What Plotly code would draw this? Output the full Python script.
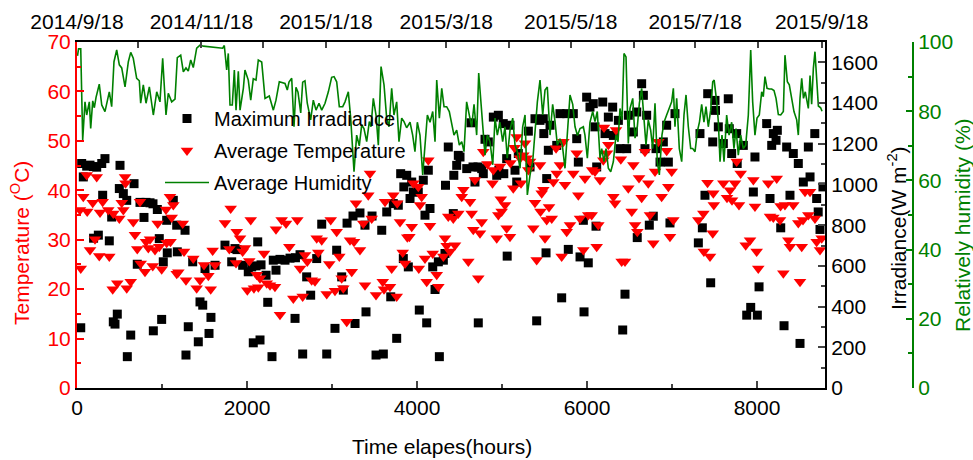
import plotly.graph_objects as go

# ---------------- data ----------------
# Maximum irradiance (W m^-2) vs elapsed hours
IRR_HOURS = [44, 55, 74, 114, 153, 192, 195, 232, 251, 291, 302, 329, 380, 408, 427, 447, 474, 498, 506, 545,
             585, 592, 632, 671, 709, 741, 788, 812, 859, 894, 898, 945, 968, 996, 1015, 1055, 1062, 1133, 1173, 1180,
             1271, 1282, 1309, 1361, 1427, 1447, 1479, 1506, 1553, 1576, 1624, 1741, 1820, 1859, 1882, 1949, 2015, 2055, 2074, 2106,
             2126, 2153, 2165, 2224, 2244, 2294, 2309, 2341, 2388, 2447, 2506, 2565, 2570, 2624, 2655, 2702, 2749, 2820, 2879, 2938,
             3035, 3055, 3114, 3133, 3177, 3247, 3271, 3329, 3388, 3400, 3471, 3518, 3585, 3604, 3644, 3691, 3721, 3761, 3780, 3808,
             3839, 3845, 3879, 3898, 3918, 3938, 3957, 4015, 4027, 4074, 4094, 4114, 4133, 4153, 4185, 4212, 4251, 4263, 4310, 4329,
             4335, 4368, 4427, 4433, 4467, 4486, 4506, 4585, 4635, 4659, 4682, 4718, 4721, 4761, 4780, 4800, 4839, 4898, 4938, 4957,
             4963, 5015, 5021, 5055, 5061, 5094, 5153, 5173, 5192, 5310, 5330, 5388, 5408, 5447, 5486, 5492, 5518, 5526, 5545, 5565,
             5644, 5682, 5702, 5761, 5780, 5839, 5879, 5898, 5918, 5957, 5965, 5996, 6015, 6035, 6074, 6094, 6106, 6114, 6185, 6212,
             6251, 6302, 6310, 6369, 6388, 6420, 6447, 6467, 6486, 6545, 6585, 6591, 6643, 6663, 6682, 6702, 6733, 6780, 6812, 6859,
             6898, 6937, 6957, 6976, 7035, 7310, 7329, 7357, 7388, 7420, 7455, 7479, 7506, 7512, 7545, 7604, 7662, 7674, 7702, 7761,
             7767, 7839, 7879, 7926, 7957, 7976, 8004, 8024, 8114, 8153, 8173, 8192, 8224, 8239, 8279, 8318, 8349, 8388, 8427, 8486,
             8506, 8545, 8604, 8624, 8680, 8702, 8720, 8741, 8776]
IRR_VALUES = [296, 1103, 1037, 1090, 1095, 1088, 736, 1085, 751, 1103, 947, 1127, 723, 840, 325, 314, 363, 980, 1094, 955,
              922, 154, 260, 1004, 608, 912, 838, 912, 910, 905, 281, 877, 734, 337, 620, 824, 664, 922, 800, 669,
              775, 162, 301, 620, 227, 423, 407, 587, 268, 347, 603, 702, 620, 685, 680, 603, 571, 595, 222, 600,
              718, 236, 605, 554, 421, 154, 628, 579, 632, 628, 638, 342, 640, 655, 167, 546, 456, 636, 805, 167,
              293, 677, 546, 481, 810, 845, 317, 860, 800, 374, 845, 162, 775, 167, 865, 448, 906, 244, 898, 1053,
              636, 988, 1045, 595, 931, 1012, 963, 963, 383, 1021, 849, 320, 1070, 882, 595, 484, 620, 154, 628, 661,
              996, 1184, 857, 1045, 1094, 1143, 1135, 1078, 1303, 1086, 1012, 1086, 320, 1078, 1053, 1222, 1209, 1331, 1045, 1340,
              1070, 1299, 1053, 1127, 648, 1291, 1070, 1012, 1152, 1262, 1086, 1323, 330, 1315, 1323, 1250, 664, 1029, 1168, 1291,
              1192, 1348, 443, 1348, 681, 1348, 1225, 1110, 644, 824, 374, 1429, 615, 1380, 1397, 1283, 795, 1086, 1405, 1250,
              1331, 1380, 1241, 1315, 1176, 285, 461, 1176, 1340, 1258, 1356, 739, 1495, 1438, 1176, 1340, 800, 844, 1176, 1110,
              1209, 1291, 1110, 811, 1348, 713, 1250, 787, 947, 1446, 517, 1209, 1413, 1364, 1283, 1201, 1421, 1274, 1152, 1250,
              1103, 1192, 358, 396, 963, 1135, 358, 497, 1299, 931, 1192, 1250, 1217, 1266, 787, 306, 1184, 947, 1152, 1103,
              219, 1012, 1184, 1037, 1250, 931, 865, 779, 988]

# Average temperature (deg C) vs elapsed hours
TEMP_HOURS = [35, 44, 74, 114, 120, 153, 185, 212, 232, 262, 271, 302, 368, 380, 420, 427, 474, 498, 526, 545,
              565, 571, 585, 632, 662, 682, 709, 741, 749, 800, 812, 839, 859, 891, 918, 949, 968, 996, 1047, 1055,
              1094, 1100, 1114, 1133, 1173, 1192, 1244, 1259, 1282, 1368, 1408, 1447, 1494, 1545, 1573, 1596, 1624, 1741, 1792, 1808,
              1871, 1879, 1918, 1949, 1976, 2004, 2027, 2044, 2082, 2114, 2133, 2153, 2200, 2232, 2271, 2329, 2341, 2388, 2408, 2459,
              2498, 2545, 2592, 2624, 2655, 2682, 2709, 2761, 2800, 2820, 2839, 2879, 2938, 2968, 2985, 3035, 3055, 3086, 3114, 3133,
              3173, 3212, 3232, 3259, 3282, 3329, 3368, 3388, 3427, 3447, 3467, 3518, 3597, 3612, 3624, 3682, 3702, 3721, 3761, 3767,
              3800, 3832, 3859, 3886, 3910, 3938, 3957, 4015, 4021, 4035, 4055, 4094, 4114, 4133, 4153, 4185, 4232, 4251, 4310, 4329,
              4349, 4368, 4388, 4427, 4447, 4486, 4526, 4545, 4604, 4624, 4643, 4662, 4682, 4721, 4741, 4761, 4780, 4829, 4888, 4898,
              4938, 4957, 4976, 4986, 4996, 5035, 5055, 5094, 5100, 5133, 5147, 5173, 5212, 5224, 5251, 5271, 5290, 5310, 5330, 5368,
              5388, 5408, 5447, 5453, 5467, 5486, 5506, 5526, 5553, 5585, 5604, 5636, 5644, 5682, 5702, 5722, 5741, 5761, 5800, 5839,
              5879, 5898, 5918, 5957, 5976, 6015, 6055, 6061, 6094, 6114, 6133, 6153, 6192, 6200, 6235, 6251, 6310, 6329, 6341, 6398,
              6408, 6447, 6486, 6526, 6545, 6565, 6592, 6612, 6643, 6682, 6721, 6741, 6780, 6800, 6839, 6878, 6937, 6957, 6976, 6996,
              7016, 7310, 7369, 7375, 7418, 7447, 7479, 7486, 7492, 7604, 7647, 7682, 7706, 7741, 7761, 7788, 7808, 7867, 7918, 7957,
              7976, 7996, 8015, 8133, 8153, 8192, 8232, 8271, 8277, 8310, 8329, 8369, 8388, 8427, 8486, 8506, 8526, 8541, 8565, 8604,
              8624, 8682, 8702, 8741, 8761]
TEMP_VALUES = [36, 24.2, 38.7, 43.1, 35.7, 27.9, 37.5, 30.1, 42.7, 26.7, 35.5, 37.7, 36, 26.6, 20, 35.3, 21.2, 34.3, 37.5, 36,
               42.7, 41.4, 20.2, 21.5, 33.6, 31, 28.1, 37.7, 25.2, 23.5, 29.6, 28.3, 30.1, 24.7, 27.9, 33.3, 28.6, 24, 36.1, 29.4,
               38.7, 29.6, 34.5, 37, 23.1, 23.4, 33.3, 27.6, 21.8, 26.2, 20.2, 21.8, 24.9, 22.7, 20, 27.8, 24.9, 33.4, 28.1, 36.3,
               25.3, 31.6, 30.3, 27.6, 28.3, 19.8, 25.7, 34, 20.2, 22.9, 20.4, 22.2, 27.2, 21.2, 20.8, 20.5, 32.1, 14.8, 34, 33.3,
               28.6, 18.1, 34, 24.2, 18.5, 26.9, 25.6, 21.8, 21.6, 30.3, 27.4, 29.9, 19, 25.1, 34, 19.7, 31.6, 26.6, 22.2, 20.2,
               13.4, 29.9, 23.5, 29.6, 37.4, 27.9, 33.3, 20.8, 39, 43.4, 34.3, 18.8, 21.5, 20, 37.7, 20.5, 24.2, 39, 18.5, 37.4,
               33.6, 27.4, 25.2, 30.5, 30.6, 32.6, 41.4, 40.7, 24.2, 37, 38.7, 26.2, 21.5, 46.1, 32.8, 27.2, 22.9, 20.5, 26.6, 30.3,
               28.8, 34.7, 27.6, 34.3, 28.9, 35.3, 38.7, 40.1, 25.6, 37.7, 35.3, 32, 42.1, 22.2, 31.3, 33.6, 47.8, 45.3, 41.4, 44.1,
               30.3, 35, 44.8, 38.2, 35.7, 37, 32.3, 30.6, 45.5, 40.4, 48.6, 50.8, 46.5, 41.4, 47.1, 49.5, 46.5, 44.1, 45.8, 32.3,
               37.5, 25.9, 45.1, 35.7, 39.4, 40.1, 30.3, 34, 36.6, 34.3, 41.7, 48.5, 43.4, 45.1, 26.6, 49.8, 41.1, 31.6, 33, 43.4,
               47.5, 39, 34.3, 27.9, 42.4, 35, 35, 44.1, 43.8, 28.6, 33, 42.1, 46.1, 52.7, 47.5, 49.2, 38.7, 37.4, 52.2, 46.3,
               25.6, 25.6, 40.4, 35.7, 45.1, 33, 31.6, 42.5, 38.5, 47.8, 41.4, 35, 29.3, 43.8, 49.8, 38.7, 48, 40.7, 30.6, 43.8,
               34, 34, 35.3, 27.6, 41.5, 26.6, 31.3, 39.4, 37, 41.4, 38.5, 40, 38, 41.4, 45.8, 37, 43.4, 28.9, 29.9, 42.1,
               36.7, 27.6, 24.2, 41.4, 34.7, 34.5, 42.4, 34, 36.8, 23.2, 37, 29.9, 28.6, 37, 33.4, 21.5, 28.6, 34, 39.7, 35,
               39.7, 34.3, 29.6, 27.9, 30.3]

# Average relative humidity (%) vs elapsed hours
HUM_HOURS = [6, 18, 44, 67, 94, 114, 145, 161, 185, 204, 224, 262, 291, 329, 380, 408, 435, 467, 498, 526,
             565, 604, 632, 662, 702, 733, 749, 780, 812, 851, 898, 938, 976, 1008, 1047, 1074, 1114, 1153, 1180, 1220,
             1251, 1282, 1309, 1338, 1368, 1408, 1447, 1486, 1714, 1733, 1761, 1780, 1800, 1827, 1851, 1871, 1898, 1918, 1957, 1976,
             2015, 2044, 2074, 2106, 2133, 2173, 2212, 2262, 2310, 2341, 2380, 2420, 2447, 2474, 2494, 2526, 2553, 2576, 2600, 2632,
             2655, 2682, 2709, 2749, 2780, 2812, 2847, 2879, 2918, 2957, 2996, 3024, 3055, 3086, 3126, 3153, 3192, 3220, 3259, 3290,
             3321, 3349, 3376, 3408, 3439, 3459, 3486, 3518, 3545, 3577, 3612, 3643, 3671, 3702, 3729, 3761, 3788, 3820, 3847, 3878,
             3918, 3949, 3976, 4004, 4035, 4067, 4094, 4122, 4153, 4185, 4212, 4232, 4263, 4291, 4318, 4349, 4380, 4408, 4435, 4467,
             4498, 4526, 4553, 4584, 4615, 4643, 4671, 4702, 4726, 4749, 4773, 4800, 4827, 4859, 4891, 4918, 4945, 4976, 5008, 5035,
             5062, 5094, 5126, 5153, 5180, 5212, 5243, 5271, 5298, 5330, 5361, 5388, 5416, 5447, 5479, 5506, 5533, 5565, 5596, 5624,
             5651, 5682, 5710, 5741, 5769, 5800, 5832, 5859, 5888, 5918, 5957, 5976, 6004, 6035, 6067, 6094, 6121, 6153, 6173, 6200,
             6224, 6251, 6279, 6310, 6341, 6365, 6388, 6412, 6435, 6459, 6486, 6506, 6538, 6565, 6592, 6616, 6643, 6663, 6694, 6721,
             6749, 6773, 6800, 6827, 6851, 6882, 6906, 6937, 6968, 6996, 7016, 7035, 7055, 7086, 7114, 7141, 7165, 7192, 7220, 7243,
             7271, 7298, 7324, 7349, 7376, 7400, 7427, 7455, 7479, 7496, 7526, 7545, 7565, 7588, 7612, 7643, 7671, 7702, 7729, 7753,
             7780, 7808, 7839, 7867, 7898, 7926, 7949, 7976, 8000, 8027, 8055, 8074, 8094, 8118, 8145, 8173, 8200, 8224, 8251, 8279,
             8310, 8329, 8357, 8380, 8408, 8435, 8467, 8486, 8506, 8526, 8547, 8568, 8604, 8624, 8643, 8663, 8682, 8702, 8722, 8749,
             8765]
HUM_VALUES = [96, 98, 98, 71.7, 82.7, 78.9, 82.7, 75, 83, 81, 84, 87.8, 81.8, 79.9, 85.6, 81.3, 94.3, 97.7, 93.4, 92.5,
              87, 94.3, 97, 95.3, 89.5, 88.8, 82.3, 87.6, 82.3, 87, 78.9, 85.6, 82.7, 95.3, 78.9, 85.2, 82.7, 83.5, 95.5, 96.2,
              91.4, 92.5, 91.6, 94.8, 92.6, 98.2, 99.1, 98.8, 98.2, 99, 91.9, 96.7, 81.8, 81.8, 91.9, 80.3, 91.5, 80.3, 86.6, 91.9,
              89, 83.2, 89.4, 89, 94.8, 94.2, 83.7, 84.4, 80.3, 83.2, 88.5, 88.2, 88, 86.1, 88.4, 89.5, 75.5, 86.9, 85.5, 79.5,
              88.4, 88.8, 82.3, 77.5, 83.2, 80.3, 82.3, 80.3, 82.3, 85.6, 89.8, 90, 88.5, 81.3, 81.3, 82.7, 85.6, 78, 62.5, 73.1,
              70, 76, 75, 71.2, 77, 75.5, 83.7, 78.9, 70.2, 92.9, 87.6, 78, 75.5, 86.6, 78.9, 82.7, 71.2, 78, 77, 75.2,
              76.8, 73.1, 68.3, 76.8, 73.1, 61.6, 70.2, 78.9, 76.8, 79.9, 71.2, 89, 78, 86.6, 81.3, 81.3, 79.9, 76.8, 73.1, 74.5,
              70.2, 71.2, 68.3, 82.7, 78.9, 75.5, 82, 73.1, 91, 82.7, 75.5, 67.3, 73.1, 71.2, 64.5, 78, 73.1, 76.8, 71.2, 75.5,
              66.4, 74.5, 78, 70.2, 68.3, 63.5, 75.5, 78.9, 55.8, 61.6, 65.4, 73.1, 82.7, 89, 78.9, 86.1, 87, 73.1, 82, 77,
              70.2, 72, 70.2, 63.5, 73.1, 84.7, 82, 75.5, 73, 75, 75.5, 73.1, 66.4, 76.8, 79.9, 77, 79.9, 66.4, 69.2, 65.4,
              69.2, 63.5, 62.5, 65.4, 73.1, 71.2, 80.8, 77.5, 96.7, 95.7, 70.7, 80.8, 83.7, 72.2, 75.5, 82.3, 86.6, 80, 70.2, 77.5,
              74.5, 69.2, 82.3, 65.4, 61.6, 73.1, 76.8, 78.9, 80.8, 82.7, 86.6, 75.5, 83.7, 69.2, 65.4, 78.9, 84.7, 75.5, 69.2, 69.2,
              68.3, 74.1, 77, 82, 76.8, 81.3, 75.5, 80.3, 88.5, 89, 82.7, 77, 65.4, 73.1, 65.4, 78.9, 73.1, 76.8, 69.2, 75,
              67.3, 73.1, 69.2, 70.2, 78.9, 97.7, 82.7, 73.1, 78, 78.9, 85.6, 84.2, 90, 86.6, 86.4, 86.4, 86, 83.7, 79, 78.9,
              79.9, 96.2, 88.5, 87.6, 83.7, 79.9, 77.5, 73.1, 83.7, 89.5, 83.7, 85.6, 80.8, 90.3, 82, 92.4, 97.2, 88.5, 81.5, 81,
              80]

# Top axis: calendar dates (hours elapsed since 2014/9/18)
DATE_TICK_HOURS = [0, 1464, 2928, 4344, 5808, 7272, 8760]
DATE_TICK_TEXT = ["2014/9/18", "2014/11/18", "2015/1/18", "2015/3/18", "2015/5/18", "2015/7/18", "2015/9/18"]
DATE_MINOR_HOURS = [720, 2184, 3672, 5088, 6552, 8016]

# ---------------- figure ----------------
FONT = "Liberation Sans, Arial, sans-serif"
GREEN = "#008000"
RED = "#ff0000"
TICK_SIZE = 21

fig = go.Figure()
fig.add_trace(go.Scatter(x=IRR_HOURS, y=IRR_VALUES, mode="markers", name="Maximum Irradiance",
                         marker=dict(symbol="square", size=9, color="black"),
                         xaxis="x", yaxis="y", legendgroup="a"))
fig.add_trace(go.Scatter(x=TEMP_HOURS, y=TEMP_VALUES, mode="markers", name="Average Temperature",
                         marker=dict(symbol="triangle-down", size=11, color=RED),
                         xaxis="x", yaxis="y2", legendgroup="b"))
fig.add_trace(go.Scatter(x=HUM_HOURS, y=HUM_VALUES, mode="lines", name="Average Humidity",
                         line=dict(color=GREEN, width=1.6),
                         xaxis="x", yaxis="y3", legendgroup="c"))

W, H = 973, 460
ML, MR, MT, MB = 77, 10, 42, 72
PW = W - ML - MR
PH = H - MT - MB
x_end = (825 - ML) / PW
hum_pos = (913 - ML) / PW

tickfont = dict(family=FONT, size=TICK_SIZE, color="black")

fig.update_layout(
    width=W, height=H, template="none",
    paper_bgcolor="white", plot_bgcolor="white",
    margin=dict(l=ML, r=MR, t=MT, b=MB, autoexpand=False),
    font=dict(family=FONT, size=20, color="black"),
    showlegend=True,
    legend=dict(x=(160 - ML) / PW, y=(388 - 99) / PH, xanchor="left", yanchor="top",
                bgcolor="rgba(0,0,0,0)", borderwidth=0, tracegroupgap=3, itemwidth=44,
                font=dict(family=FONT, size=20, color="black")),
    xaxis=dict(domain=[0, x_end], range=[0, 8800], anchor="y",
               tickvals=[0, 2000, 4000, 6000, 8000], ticks="inside", ticklen=7, tickwidth=1.5,
               minor=dict(tickvals=[1000, 3000, 5000, 7000], ticks="inside", ticklen=4, tickwidth=1.5),
               showline=True, linecolor="black", linewidth=2, showgrid=False, zeroline=False,
               tickfont=tickfont),
    xaxis2=dict(overlaying="x", side="top", anchor="y", range=[0, 8800],
                tickvals=DATE_TICK_HOURS, ticktext=DATE_TICK_TEXT, ticks="inside", ticklen=6, tickwidth=1.5,
                ticklabelstandoff=3,
                minor=dict(tickvals=DATE_MINOR_HOURS, ticks="inside", ticklen=6, tickwidth=1.5),
                showline=True, linecolor="black", linewidth=2, showgrid=False, zeroline=False,
                tickfont=tickfont),
    yaxis=dict(range=[0, 1700], side="right", anchor="x",
               tickvals=[0, 200, 400, 600, 800, 1000, 1200, 1400, 1600], ticks="inside", ticklen=7, tickwidth=1.5,
               minor=dict(tickvals=[100, 300, 500, 700, 900, 1100, 1300, 1500], ticks="inside", ticklen=4, tickwidth=1.5),
               showline=True, linecolor="black", linewidth=2, showgrid=False, zeroline=False,
               tickfont=tickfont),
    yaxis2=dict(range=[0, 70], side="left", overlaying="y", anchor="x",
                tickvals=[0, 10, 20, 30, 40, 50, 60, 70], ticks="inside", ticklen=7, tickwidth=1.5,
                tickcolor=RED,
                minor=dict(tickvals=[5, 15, 25, 35, 45, 55, 65], ticks="inside", ticklen=4, tickwidth=1.5, tickcolor=RED),
                showline=True, linecolor=RED, linewidth=2, showgrid=False, zeroline=False,
                tickfont=dict(family=FONT, size=TICK_SIZE, color=RED)),
    yaxis3=dict(range=[0, 100], side="right", overlaying="y", anchor="free", position=hum_pos,
                tickvals=[0, 20, 40, 60, 80, 100], ticks="inside", ticklen=6, tickwidth=1.5, tickcolor=GREEN,
                minor=dict(tickvals=[10, 30, 50, 70, 90], ticks="inside", ticklen=4, tickwidth=1.5, tickcolor=GREEN),
                showline=True, linecolor=GREEN, linewidth=2, showgrid=False, zeroline=False,
                tickfont=dict(family=FONT, size=TICK_SIZE, color=GREEN)),
)

# make the top date axis visible (needs a trace attached to it)
fig.add_trace(go.Scatter(x=[0], y=[0], xaxis="x2", yaxis="y", mode="markers",
                         marker=dict(size=0.1, color="rgba(0,0,0,0)"), showlegend=False, hoverinfo="skip"))

def px_x(p):
    return (p - ML) / PW

def px_y(p):
    return (H - MB - p) / PH

titles = [
    dict(text="Time elapes(hours)", x=px_x(442), y=px_y(460), textangle=0, color="black", yanchor="bottom"),
    dict(text="Temperature (<sup>O</sup>C)", x=px_x(20), y=px_y(243), textangle=-90, color=RED, yanchor="middle"),
    dict(text="Irradiance(W m<sup>-2</sup>)", x=px_x(897), y=px_y(228), textangle=-90, color="black", yanchor="middle"),
    dict(text="Relatively humidity (%)", x=px_x(962), y=px_y(225), textangle=-90, color=GREEN, yanchor="middle"),
]
for t in titles:
    fig.add_annotation(text=t["text"], x=t["x"], y=t["y"], xref="paper", yref="paper",
                       xanchor="center", yanchor=t["yanchor"], showarrow=False, textangle=t["textangle"],
                       font=dict(family=FONT, size=21, color=t["color"]))

fig.write_html("out.html")
